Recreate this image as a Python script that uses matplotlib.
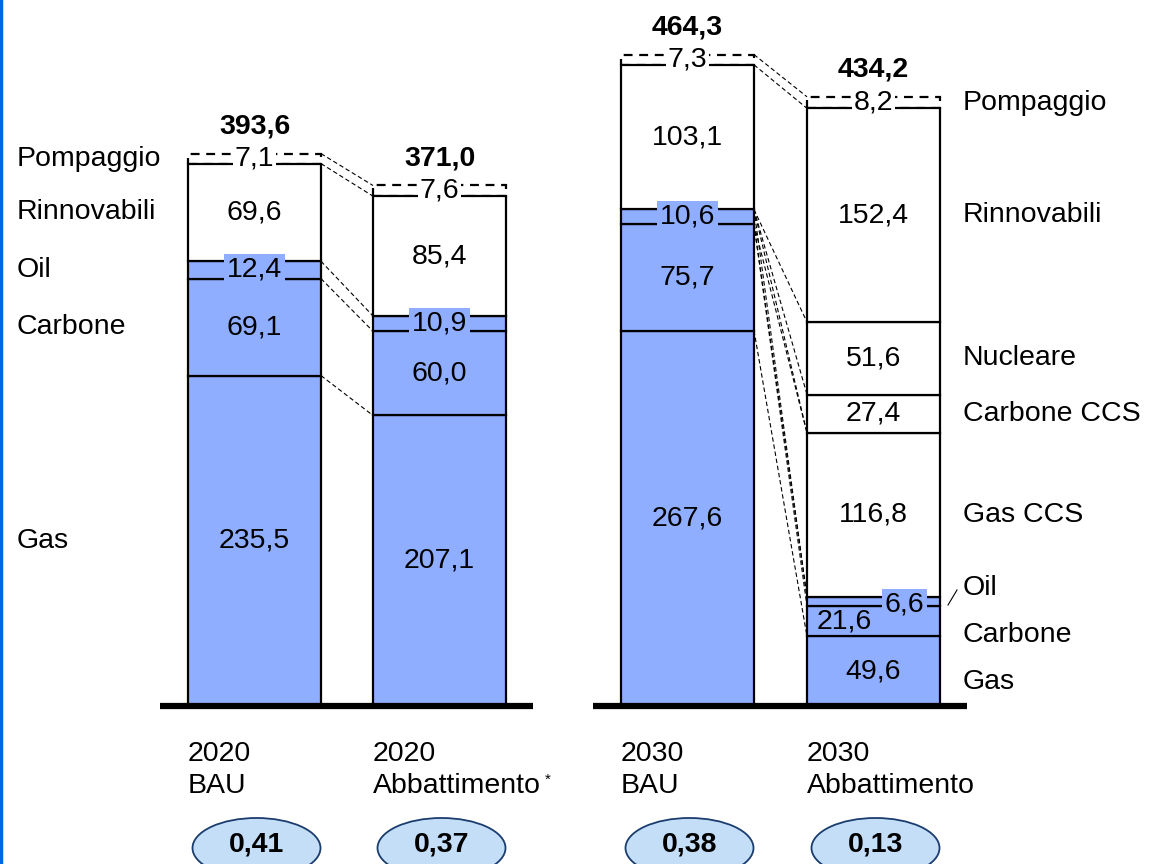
import matplotlib.pyplot as plt
from matplotlib.patches import Ellipse

plt.rcParams['font.family'] = ['Liberation Sans', 'DejaVu Sans']

# Data (TWh) - bottom to top
fonti_2020 = ['Gas', 'Carbone', 'Oil', 'Rinnovabili', 'Pompaggio']
bau_2020 = [235.5, 69.1, 12.4, 69.6, 7.1]
abb_2020 = [207.1, 60.0, 10.9, 85.4, 7.6]
bau_2030 = [267.6, 75.7, 10.6, 103.1, 7.3]

fonti_2030 = ['Gas', 'Carbone', 'Oil', 'Gas CCS', 'Carbone CCS', 'Nucleare', 'Rinnovabili', 'Pompaggio']
abb_2030 = [49.6, 21.6, 6.6, 116.8, 27.4, 51.6, 152.4, 8.2]

totali = [393.6, 371.0, 464.3, 434.2]
scenari = ['2020\nBAU', '2020\nAbbattimento', '2030\nBAU', '2030\nAbbattimento']
intensita = ['0,41', '0,37', '0,38', '0,13']

BLUE = '#90AEFF'
PX = 1.403          # pixels per unit
BASE = 706          # baseline pixel row

fig = plt.figure(figsize=(11.49, 8.64), dpi=100)
ax = fig.add_axes([0, 0, 1, 1])
ax.axis('off')
ax.set_xlim(0, 1149)
ax.set_ylim(-(864 - BASE) / PX, BASE / PX)

def py(p):
    # pixel row -> data
    return (BASE - p) / PX

def fmt(v):
    return ('%.1f' % v).replace('.', ',')

xs = [254.5, 439.5, 687.5, 873.5]
W = 133
FS = 20.5
series = [bau_2020, abb_2020, bau_2030, abb_2030]


def draw_bar(x, vals, nfoss):
    bottom = 0
    bounds = [0]
    for i, v in enumerate(vals):
        last = i == len(vals) - 1
        if i < nfoss:
            ax.bar(x, v, W, bottom=bottom, color=BLUE, edgecolor='black', lw=1.6, zorder=2)
        elif last:
            ax.bar(x, v, W, bottom=bottom, color='white', edgecolor='black', lw=1.6,
                   linestyle=(0, (4, 3)), zorder=1)
        else:
            ax.bar(x, v, W, bottom=bottom, color='white', edgecolor='black', lw=1.6, zorder=2)
        bottom += v
        bounds.append(bottom)
    return bounds


allb = []
for x, vals in zip(xs, series):
    allb.append(draw_bar(x, vals, 3))

# value labels
for k, (x, vals) in enumerate(zip(xs, series)):
    b = allb[k]
    for i, v in enumerate(vals):
        yc = (b[i] + b[i + 1]) / 2
        last = i == len(vals) - 1
        tx = x
        box = None
        if last:
            box = dict(facecolor='white', edgecolor='none', pad=1)
        elif i == 2:
            box = dict(facecolor=BLUE, edgecolor='none', pad=2)
        if k == 3 and i == 1:
            tx = x - 29
            yc = yc - 0.5
        if k == 3 and i == 2:
            tx = x + 31
            yc = yc - 2.5
        ax.text(tx, yc, fmt(v), ha='center', va='center', fontsize=FS, bbox=box, zorder=5)
    ax.text(x, totali[k] + 19.5, fmt(totali[k]), ha='center', va='center',
            fontsize=FS, fontweight='bold')

# connector lines
def connect(k1, k2, pairs):
    x1 = xs[k1] + W / 2
    x2 = xs[k2] - W / 2
    for a, b in pairs:
        ax.plot([x1, x2], [a, b], color='black', lw=0.8, ls=(0, (4, 2.5)), zorder=3)

b0, b1, b2, b3 = allb
connect(0, 1, [(b0[i], b1[i]) for i in [1, 2, 3, 4, 5]])
connect(2, 3, [(b2[5], b3[8]), (b2[4], b3[7]),
               (b2[3], b3[6]), (b2[3], b3[5]), (b2[3], b3[4]), (b2[3], b3[3]),
               (b2[2], b3[4]), (b2[2], b3[3]), (b2[2], b3[2]),
               (b2[1], b3[1])])

# left labels (2020 BAU)
for i, name in enumerate(fonti_2020):
    ax.text(17, (b0[i] + b0[i + 1]) / 2, name, ha='left', va='center', fontsize=FS)

# right labels (2030 Abbattimento)
shift = {0: -7.5, 1: -9.8, 2: 9.6}
for i, name in enumerate(fonti_2030):
    yc = (b3[i] + b3[i + 1]) / 2 + shift.get(i, 0)
    ax.text(963, yc, name, ha='left', va='center', fontsize=FS)
ax.plot([948, 957], [py(605), py(590)], color='black', lw=0.8)

# baselines
ax.plot([160, 533], [0, 0], color='black', lw=4.5, solid_capstyle='butt', zorder=4)
ax.plot([593, 967], [0, 0], color='black', lw=4.5, solid_capstyle='butt', zorder=4)

# scenario labels and ellipses
for x, lab, val in zip(xs, scenari, intensita):
    ax.text(x - W / 2, py(770), lab, ha='left', va='center', fontsize=FS, linespacing=1.3)
    ax.add_patch(Ellipse((x + 2, py(848)), 128, 60 / PX, facecolor='#C5DEF8',
                         edgecolor='#1A3D6E', lw=1.3, zorder=2))
    ax.text(x + 2, py(845), val, ha='center', va='center', fontsize=FS, fontweight='bold', zorder=3)
ax.text(545, py(773), '*', ha='left', va='top', fontsize=11)

# left border
ax.plot([1, 1], [py(0), py(864)], color='#0066E0', lw=2.5)

fig.savefig('out.png', dpi=100)
